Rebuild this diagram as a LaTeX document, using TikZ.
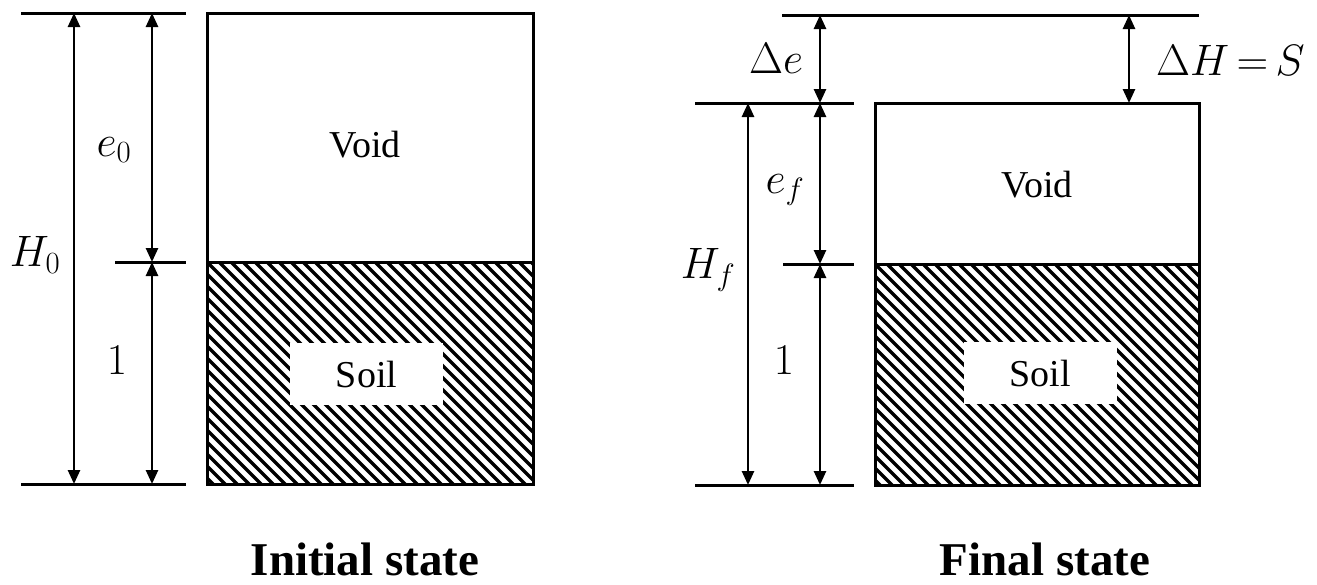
\RequirePackage{fix-cm}
\documentclass[tikz,border=0pt]{standalone}
\usepackage{fontspec}
\setmainfont{Liberation Serif}
\usetikzlibrary{arrows.meta}
\begin{document}
\begin{tikzpicture}[x=1pt,y=-1pt,
  dim/.style={line width=2.6pt, {Triangle[length=14pt,width=12pt]}-{Triangle[length=14pt,width=12pt]}},
  refline/.style={line width=3pt},
  boxline/.style={line width=3pt},
  hatchline/.style={line width=3.4pt},
  lab/.style={font=\fontsize{38}{44}\selectfont, inner sep=0pt},
  soillab/.style={font=\fontsize{38}{44}\selectfont, fill=white, inner sep=0pt, minimum width=153pt, minimum height=62pt},
  mlab/.style={font=\fontsize{44}{50}\selectfont, inner sep=0pt},
  titlelab/.style={font=\fontsize{47}{52}\selectfont\bfseries, inner sep=0pt, anchor=base},
]
\useasboundingbox (0,0) rectangle (1317,584);

% ---------- Initial state ----------
\coordinate (LtopA) at (21,13);   \coordinate (LtopB) at (186,13);
\coordinate (LmidA) at (115,262); \coordinate (LmidB) at (186,262);
\coordinate (LbotA) at (21,484);  \coordinate (LbotB) at (186,484);
\coordinate (H0t) at (74,13);  \coordinate (H0b) at (74,484);
\coordinate (e0t) at (152,13); \coordinate (e0b) at (152,262);
\coordinate (o0t) at (152,262); \coordinate (o0b) at (152,484);

\begin{scope}
  \clip (207,262) rectangle (533,484);
  \foreach \i in {-240,-228,...,340} \draw[hatchline] (207+\i,262) -- ++(240,240);
\end{scope}
\node[soillab] (soil0) at (366.5,374) {Soil};

\coordinate (B0tl) at (207,13); \coordinate (B0tr) at (533,13);
\coordinate (B0ml) at (207,262); \coordinate (B0mr) at (533,262);
\coordinate (B0bl) at (207,484); \coordinate (B0br) at (533,484);
\draw[boxline] (B0tl) -- (B0tr) -- (B0br) -- (B0bl) -- cycle;
\draw[boxline] (B0ml) -- (B0mr);

\draw[refline] (LtopA) -- (LtopB);
\draw[refline] (LmidA) -- (LmidB);
\draw[refline] (LbotA) -- (LbotB);
\draw[dim] (H0t) -- (H0b);
\draw[dim] (e0t) -- (e0b);
\draw[dim] (o0t) -- (o0b);

\node[lab] (void0) at (365,145) {Void};
\node[mlab] (e0) at (114,150) {$e_0$};
\node[mlab] (H0) at (35,255) {$H_0$};
\node[mlab] (one0) at (117,360) {$1$};
\node[titlelab] (t0) at (365,575) {Initial state};

% ---------- Final state ----------
\coordinate (RtopA) at (782,15);  \coordinate (RtopB) at (1199,15);
\coordinate (RsecA) at (695,103); \coordinate (RsecB) at (854,103);
\coordinate (RmidA) at (783,264); \coordinate (RmidB) at (854,264);
\coordinate (RbotA) at (695,485); \coordinate (RbotB) at (854,485);
\coordinate (det) at (820,15);  \coordinate (deb) at (820,103);
\coordinate (dHt) at (1129,15); \coordinate (dHb) at (1129,103);
\coordinate (Hft) at (748,103); \coordinate (Hfb) at (748,485);
\coordinate (eft) at (820,103); \coordinate (efb) at (820,264);
\coordinate (oft) at (820,264); \coordinate (ofb) at (820,485);

\begin{scope}
  \clip (875,264) rectangle (1199,485);
  \foreach \i in {-240,-228,...,340} \draw[hatchline] (875+\i,264) -- ++(240,240);
\end{scope}
\node[soillab] (soilf) at (1040,373) {Soil};

\coordinate (Bftl) at (875,103); \coordinate (Bftr) at (1199,103);
\coordinate (Bfml) at (875,264); \coordinate (Bfmr) at (1199,264);
\coordinate (Bfbl) at (875,485); \coordinate (Bfbr) at (1199,485);
\draw[boxline] (Bftl) -- (Bftr) -- (Bfbr) -- (Bfbl) -- cycle;
\draw[boxline] (Bfml) -- (Bfmr);

\draw[refline] (RtopA) -- (RtopB);
\draw[refline] (RsecA) -- (RsecB);
\draw[refline] (RmidA) -- (RmidB);
\draw[refline] (RbotA) -- (RbotB);
\draw[dim] (det) -- (deb);
\draw[dim] (dHt) -- (dHb);
\draw[dim] (Hft) -- (Hfb);
\draw[dim] (eft) -- (efb);
\draw[dim] (oft) -- (ofb);

\node[lab] (voidf) at (1037,185) {Void};
\node[mlab] (de) at (776,58) {$\Delta e$};
\node[mlab, anchor=west] (dH) at (1156,60) {$\Delta H \mkern-2mu = \mkern-2mu S$};
\node[mlab] (ef) at (785,190) {$e_f$};
\node[mlab] (Hf) at (708,270) {$H_f$};
\node[mlab] (onef) at (784,360) {$1$};
\node[titlelab] (tf) at (1045,575) {Final state};
\end{tikzpicture}
\end{document}
